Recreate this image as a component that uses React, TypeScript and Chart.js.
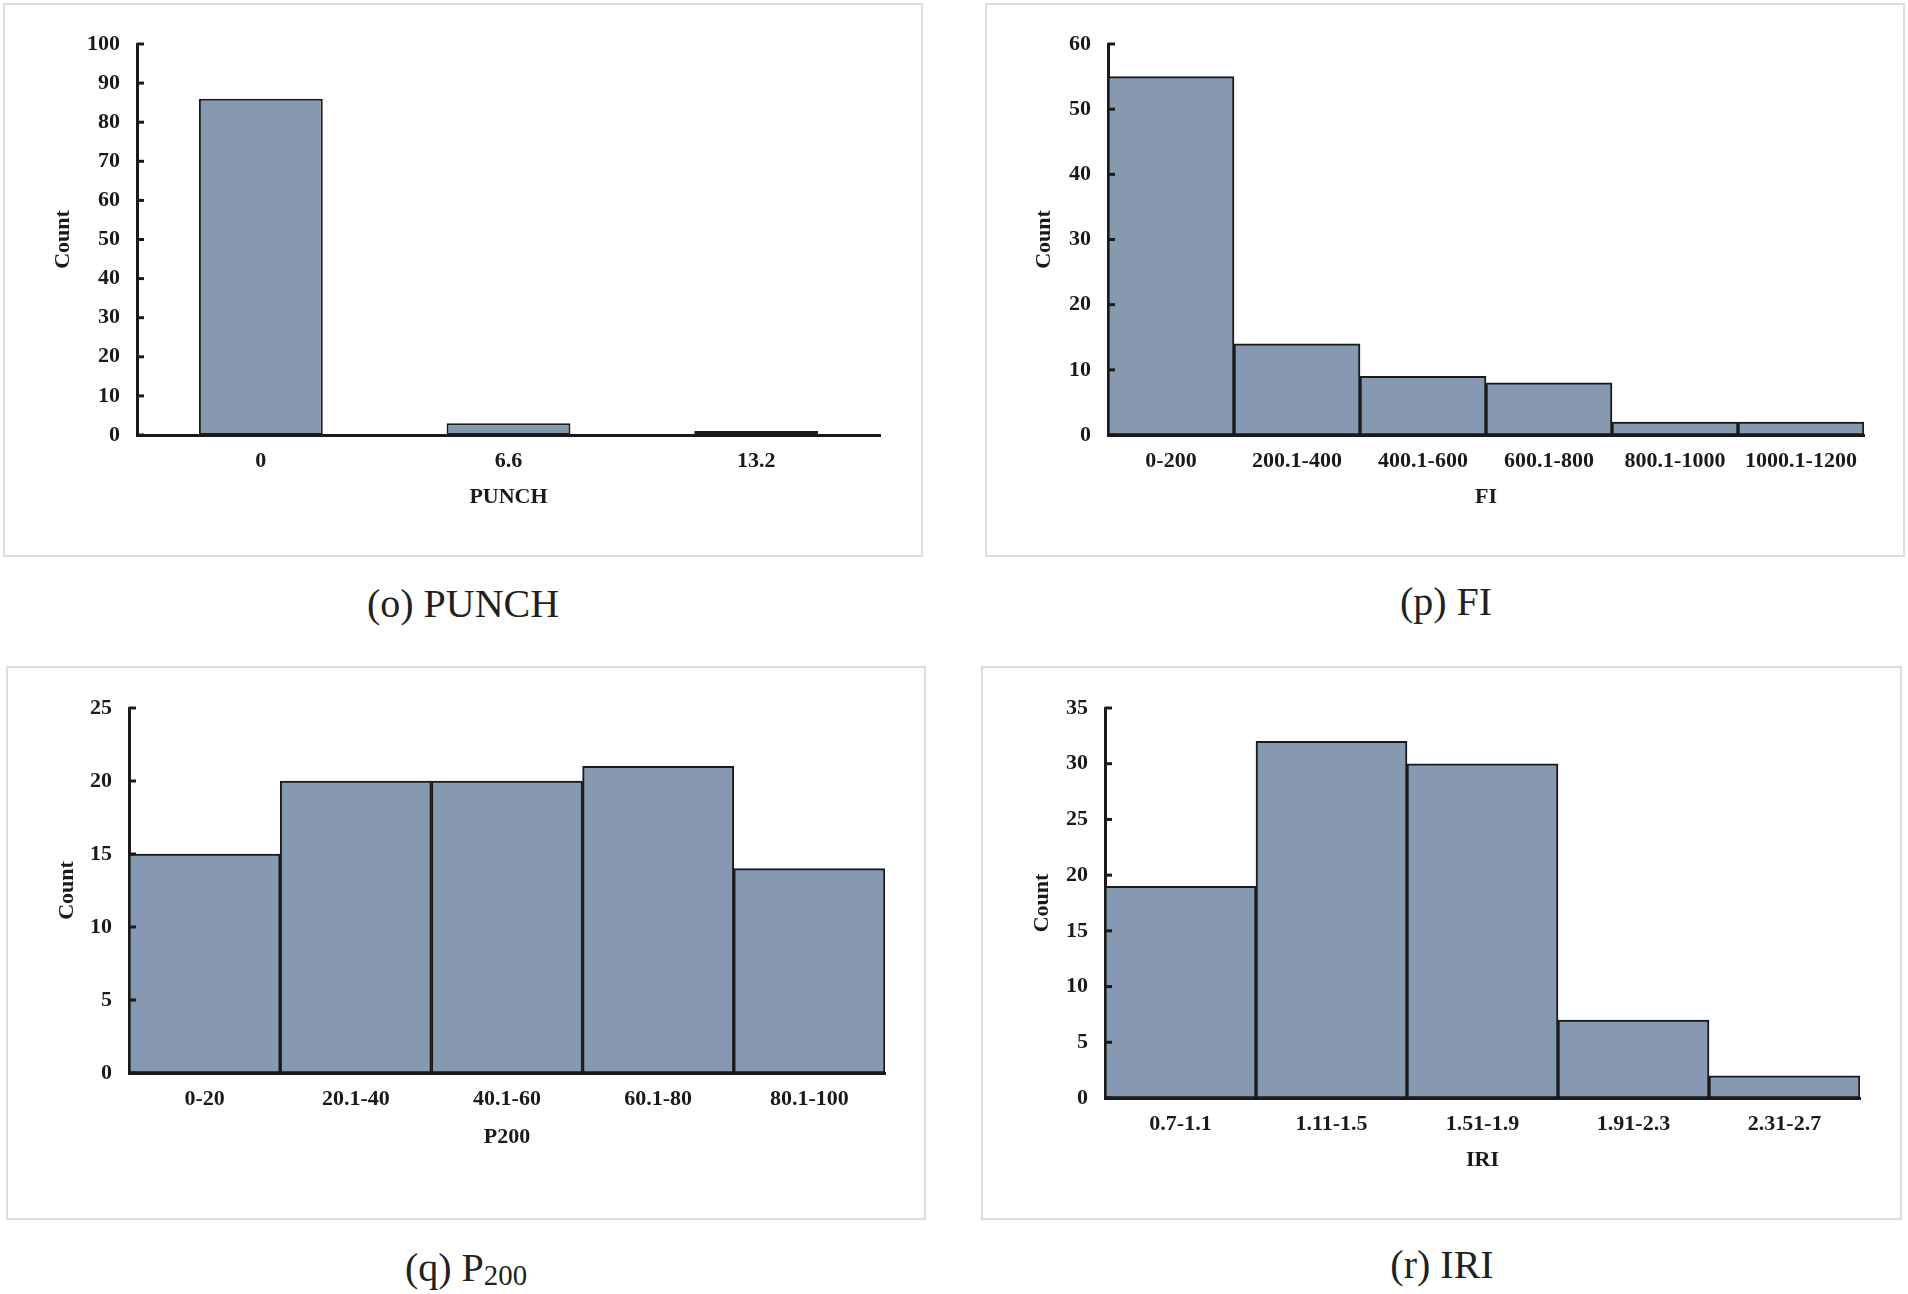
import React, { useEffect, useRef } from 'react';
import { Chart, registerables } from 'chart.js';

Chart.register(...registerables);

// ---------- data ----------
const punchCategories = ['0', '6.6', '13.2'];
const punchCounts = [86, 3, 1];
const punchYTicks = [0, 10, 20, 30, 40, 50, 60, 70, 80, 90, 100];

const fiCategories = ['0-200', '200.1-400', '400.1-600', '600.1-800', '800.1-1000', '1000.1-1200'];
const fiCounts = [55, 14, 9, 8, 2, 2];
const fiYTicks = [0, 10, 20, 30, 40, 50, 60];

const p200Categories = ['0-20', '20.1-40', '40.1-60', '60.1-80', '80.1-100'];
const p200Counts = [15, 20, 20, 21, 14];
const p200YTicks = [0, 5, 10, 15, 20, 25];

const iriCategories = ['0.7-1.1', '1.11-1.5', '1.51-1.9', '1.91-2.3', '2.31-2.7'];
const iriCounts = [19, 32, 30, 7, 2];
const iriYTicks = [0, 5, 10, 15, 20, 25, 30, 35];

// ---------- styles ----------
const BAR_FILL = '#8798B1';
const INK = '#1a1a1a';
const FONT_FAMILY = '"Liberation Serif", "Times New Roman", serif';
const LABEL_FONT = { family: FONT_FAMILY, size: 22, weight: 'bold' as const };

const innerTicks = {
  id: 'innerTicks',
  afterDraw(chart: any) {
    const y = chart.scales.y;
    const ctx = chart.ctx;
    const left = chart.chartArea.left;
    ctx.save();
    ctx.strokeStyle = INK;
    ctx.lineWidth = 3;
    y.ticks.forEach((t: any) => {
      const py = y.getPixelForValue(t.value);
      ctx.beginPath();
      ctx.moveTo(left, py);
      ctx.lineTo(left + 7, py);
      ctx.stroke();
    });
    ctx.restore();
  },
};

type Geo = {
  box: { x: number; y: number; w: number; h: number };
  plot: { l: number; r: number; t: number; b: number };
  countX: number; // page x of "Count" title center
  xTitleY: number; // page y of x title center
};

function Panel(props: {
  geo: Geo;
  labels: string[];
  values: number[];
  yTicks: number[];
  xTitle: string;
  barPct: number;
  borderW: number;
}) {
  const ref = useRef<HTMLCanvasElement | null>(null);
  const { geo } = props;
  const cx = geo.box.x + 2;
  const cy = geo.box.y + 2;
  const cw = geo.box.w - 4;
  const ch = geo.box.h - 4;

  useEffect(() => {
    if (!ref.current) return;
    const yW = geo.plot.l - cx;
    const padR = cx + cw - geo.plot.r;
    const padT = geo.plot.t - cy;
    const xH = cy + ch - geo.plot.b;
    const lh = LABEL_FONT.size * 1.2;
    const yTitlePad = geo.countX - cx - lh / 2;
    const xTitlePad = cy + ch - geo.xTitleY - lh / 2;
    const step = props.yTicks[1] - props.yTicks[0];

    const chart = new Chart(ref.current, {
      type: 'bar',
      data: {
        labels: props.labels,
        datasets: [
          {
            data: props.values,
            backgroundColor: BAR_FILL,
            borderColor: INK,
            borderWidth: props.borderW,
            borderSkipped: false,
            barPercentage: props.barPct,
            categoryPercentage: 1,
          },
        ],
      },
      options: {
        responsive: false,
        animation: false,
        layout: { padding: { left: 0, right: padR, top: padT, bottom: 0 } },
        plugins: { legend: { display: false }, tooltip: { enabled: false } },
        scales: {
          x: {
            type: 'category',
            offset: true,
            z: 1,
            grid: { display: false, drawTicks: false },
            border: { display: true, color: INK, width: 3 },
            ticks: { font: LABEL_FONT, color: INK, padding: 13, maxRotation: 0, autoSkip: false },
            title: {
              display: true,
              text: props.xTitle,
              font: LABEL_FONT,
              color: INK,
              padding: { top: 0, bottom: xTitlePad },
            },
            afterFit: (s: any) => {
              s.height = xH;
            },
          },
          y: {
            min: props.yTicks[0],
            max: props.yTicks[props.yTicks.length - 1],
            z: 1,
            grid: { display: false, drawTicks: false },
            border: { display: true, color: INK, width: 3 },
            ticks: { stepSize: step, font: LABEL_FONT, color: INK, padding: 17 },
            title: {
              display: true,
              text: 'Count',
              font: LABEL_FONT,
              color: INK,
              padding: { top: yTitlePad, bottom: 0 },
            },
            afterFit: (s: any) => {
              s.width = yW;
            },
          },
        },
      },
      plugins: [innerTicks],
    } as any);
    return () => chart.destroy();
  }, []);

  return (
    <>
      <div
        style={{
          position: 'absolute',
          left: geo.box.x,
          top: geo.box.y,
          width: geo.box.w,
          height: geo.box.h,
          boxSizing: 'border-box',
          border: '2px solid #dcdcdc',
          background: '#fff',
        }}
      />
      <canvas
        ref={ref}
        width={cw}
        height={ch}
        style={{ position: 'absolute', left: cx, top: cy, width: cw, height: ch }}
      />
    </>
  );
}

function Caption(props: { x: number; y: number; children: React.ReactNode }) {
  return (
    <div
      style={{
        position: 'absolute',
        left: props.x,
        top: props.y,
        transform: 'translate(-50%, -50%)',
        fontFamily: FONT_FAMILY,
        fontSize: 40,
        lineHeight: 1,
        color: '#231f20',
        whiteSpace: 'nowrap',
      }}
    >
      {props.children}
    </div>
  );
}

export default function App() {
  const geoO: Geo = { box: { x: 3, y: 3, w: 920, h: 554 }, plot: { l: 137, r: 880, t: 44, b: 435 }, countX: 63, xTitleY: 497 };
  const geoP: Geo = { box: { x: 985, y: 3, w: 920, h: 554 }, plot: { l: 1108, r: 1864, t: 44, b: 435 }, countX: 1044, xTitleY: 497 };
  const geoQ: Geo = { box: { x: 6, y: 666, w: 920, h: 554 }, plot: { l: 129, r: 885, t: 708, b: 1073 }, countX: 67, xTitleY: 1137 };
  const geoR: Geo = { box: { x: 981, y: 666, w: 921, h: 554 }, plot: { l: 1105, r: 1860, t: 708, b: 1098 }, countX: 1042, xTitleY: 1160 };

  return (
    <div style={{ position: 'absolute', left: 0, top: 0, width: 1908, height: 1294, background: '#fff', overflow: 'hidden' }}>
      <Panel geo={geoO} labels={punchCategories} values={punchCounts} yTicks={punchYTicks} xTitle="PUNCH" barPct={0.5} borderW={2} />
      <Panel geo={geoP} labels={fiCategories} values={fiCounts} yTicks={fiYTicks} xTitle="FI" barPct={1} borderW={2} />
      <Panel geo={geoQ} labels={p200Categories} values={p200Counts} yTicks={p200YTicks} xTitle="P200" barPct={1} borderW={2} />
      <Panel geo={geoR} labels={iriCategories} values={iriCounts} yTicks={iriYTicks} xTitle="IRI" barPct={1} borderW={2} />
      <Caption x={463} y={604}>(o) PUNCH</Caption>
      <Caption x={1446} y={602}>(p) FI</Caption>
      <Caption x={466} y={1269}>
        (q) P<span style={{ fontSize: '0.72em', verticalAlign: '-0.12em' }}>200</span>
      </Caption>
      <Caption x={1442} y={1265}>(r) IRI</Caption>
    </div>
  );
}
